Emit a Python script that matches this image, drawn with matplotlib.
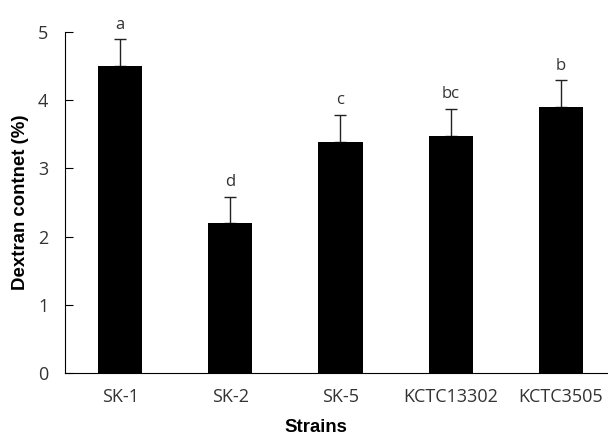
import matplotlib.pyplot as plt
import numpy as np

strains = ["SK-1", "SK-2", "SK-5", "KCTC13302", "KCTC3505"]
dextran = [4.5, 2.2, 3.38, 3.48, 3.9]
err = [0.39, 0.38, 0.4, 0.39, 0.39]
letters = ["a", "d", "c", "bc", "b"]

plt.rcParams['font.family'] = ['Open Sans', 'DejaVu Sans']

fig = plt.figure(figsize=(6.08, 4.32), dpi=100)
ax = fig.add_axes([0.107, 0.1366, 0.906, 0.7894])

x = np.arange(len(strains))
ax.bar(x, dextran, width=0.4, color="black", zorder=2)
ax.errorbar(x, dextran, yerr=[np.zeros(len(err)), err], fmt="none",
            ecolor="#222222", elinewidth=1, capsize=4, capthick=1, zorder=1)

for xi, v, e, lab in zip(x, dextran, err, letters):
    ax.text(xi, v + e + 0.1, lab, ha="center", va="bottom", fontsize=12, color="#333333")

ax.set_xlim(-0.5, 4.5)
ax.set_ylim(0, 5)
ax.set_xticks(x)
ax.set_xticklabels(strains, fontsize=13, color="#333333")
ax.set_yticks(range(6))
ax.tick_params(axis="y", direction="in", length=6, labelsize=13, labelcolor="#333333", pad=12)
ax.tick_params(axis="x", length=0, pad=11)
ax.spines["top"].set_visible(False)
ax.spines["right"].set_visible(False)

ax.set_ylabel("Dextran contnet (%)", fontsize=13.4, fontweight="bold",
              family=["Liberation Sans", "DejaVu Sans"])
ax.yaxis.set_label_coords(-0.065, 0.5)
ax.set_xlabel("Strains", fontsize=13.4, fontweight="bold",
              family=["Liberation Sans", "DejaVu Sans"], va="top")
ax.xaxis.set_label_coords(0.455, -0.136)

fig.savefig("out.png", dpi=100)
